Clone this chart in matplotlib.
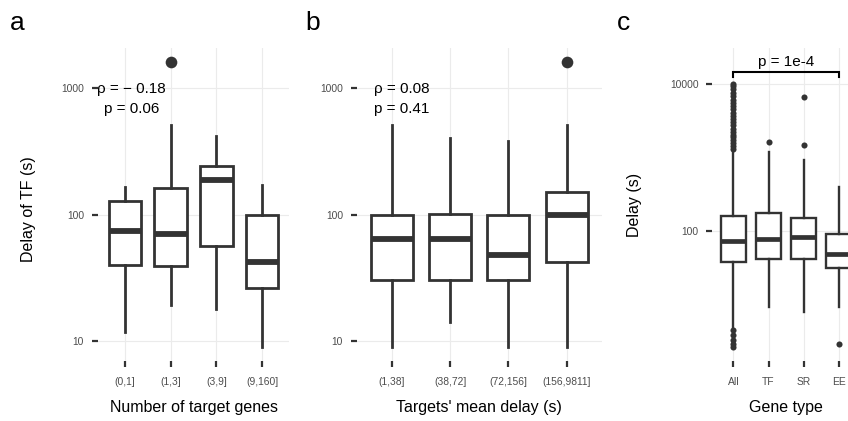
import matplotlib
matplotlib.use('Agg')
import matplotlib.pyplot as plt

plt.rcParams['font.family'] = ['Liberation Sans', 'DejaVu Sans']

W, H = 848, 421
DARK = '#333333'
GRID = '#EBEBEB'
TICKTXT = '#4D4D4D'

# panel a: delay of TF by number of target genes
labels_a = ['(0,1]', '(1,3]', '(3,9]', '(9,160]']
a_whislo = [11.8, 19.3, 17.9, 9.0]
a_q1 = [40, 39, 56, 26.2]
a_med = [74, 70.5, 187, 42]
a_q3 = [128, 162, 243, 100]
a_whishi = [165, 511, 420, 171]
a_fliers = [[], [1600], [], []]

# panel b: delay of TF by targets' mean delay
labels_b = ['(1,38]', '(38,72]', '(72,156]', '(156,9811]']
b_whislo = [9.0, 14.2, 9.0, 9.0]
b_q1 = [30.3, 30.3, 30.3, 41.9]
b_med = [63.7, 63.7, 47.9, 100]
b_q3 = [100, 101, 100, 151]
b_whishi = [511, 405, 381, 511]
b_fliers = [[], [], [], [1600]]

# panel c: delay by gene type
labels_c = ['All', 'TF', 'SR', 'EE']
c_whislo = [4.9, 9.1, 7.9, 9.2]
c_q1 = [37.8, 40.8, 40.8, 30.8]
c_med = [72, 76, 81, 48]
c_q3 = [160, 172, 150, 89]
c_whishi = [1250, 1190, 916, 397]
c_fliers = [[2.6, 2.9, 3.3, 3.8, 4.4,
             1300, 1400, 1550, 1700, 1850, 2000, 2200, 2400, 2700, 3000,
             3300, 3600, 4000, 4500, 5000, 5500, 6000, 6700, 7500, 8300,
             9200, 10000],
            [1626], [1437, 6650], [2.9]]

rho_a, p_a = '\u03c1 = \u2212 0.18', 'p = 0.06'
rho_b, p_b = '\u03c1 = 0.08', 'p = 0.41'
p_c = 'p = 1e-4'


def make_stats(lo, q1, med, q3, hi, fliers):
    return [dict(whislo=w1, q1=b1, med=m, q3=b3, whishi=w2, fliers=f)
            for w1, b1, m, b3, w2, f in zip(lo, q1, med, q3, hi, fliers)]


def px_axes(fig, left, right, top, bottom):
    return fig.add_axes([left / W, (H - bottom) / H, (right - left) / W, (bottom - top) / H])


def draw_panel(ax, stats, labels, yticks, ylim, flier_size, lw, med_lw):
    pos = list(range(1, len(stats) + 1))
    ax.set_yscale('log')
    ax.bxp(stats, positions=pos, widths=0.72, showcaps=False, patch_artist=True,
           boxprops=dict(facecolor='white', edgecolor=DARK, linewidth=lw),
           whiskerprops=dict(color=DARK, linewidth=lw),
           medianprops=dict(color=DARK, linewidth=med_lw, solid_capstyle='butt'),
           flierprops=dict(marker='o', markerfacecolor=DARK, markeredgecolor='none',
                           markersize=flier_size),
           zorder=3)
    ax.set_xlim(0.4, len(stats) + 0.6)
    ax.set_ylim(*ylim)
    ax.set_xticks(pos)
    ax.set_xticklabels(labels)
    ax.set_yticks(yticks)
    ax.set_yticklabels([str(t) for t in yticks])
    ax.minorticks_off()
    for s in ax.spines.values():
        s.set_visible(False)
    for t in yticks:
        ax.axhline(t, color=GRID, lw=0.85, zorder=0)
    for x in pos:
        ax.axvline(x, color=GRID, lw=0.85, zorder=0)
    ax.tick_params(axis='both', length=4.3, width=1.6, color=DARK,
                   labelcolor=TICKTXT, labelsize=7.4)
    ax.tick_params(axis='x', pad=7)
    ax.tick_params(axis='y', pad=5.5)


fig = plt.figure(figsize=(W / 100, H / 100), dpi=100)

ax_a = px_axes(fig, 97.6, 289.4, 47.8, 361)
draw_panel(ax_a, make_stats(a_whislo, a_q1, a_med, a_q3, a_whishi, a_fliers),
           labels_a, [10, 100, 1000], (10 ** 0.842, 10 ** 3.318), 8.4, 2.0, 4.2)
ax_a.text(1.15, 918, rho_a, ha='center', va='baseline', fontsize=11, zorder=5)
ax_a.text(1.15, 638, p_a, ha='center', va='baseline', fontsize=11, zorder=5)

ax_b = px_axes(fig, 356.7, 601.7, 47.8, 361)
draw_panel(ax_b, make_stats(b_whislo, b_q1, b_med, b_q3, b_whishi, b_fliers),
           labels_b, [10, 100, 1000], (10 ** 0.842, 10 ** 3.318), 8.4, 2.0, 4.2)
ax_b.text(1.17, 918, rho_b, ha='center', va='baseline', fontsize=11, zorder=5)
ax_b.text(1.17, 638, p_b, ha='center', va='baseline', fontsize=11, zorder=5)

# panel c runs past the right edge of the figure, as in the original crop
ax_c = px_axes(fig, 712.2, 860, 47.8, 361)
draw_panel(ax_c, make_stats(c_whislo, c_q1, c_med, c_q3, c_whishi, c_fliers),
           labels_c, [100, 10000], (10 ** 0.227, 10 ** 4.486), 4.4, 1.7, 3.4)
ax_c.plot([1, 1, 4, 4], [12450, 14550, 14550, 12450], color='black', lw=1.5,
          solid_joinstyle='miter', zorder=5, clip_on=False)
ax_c.text(2.5, 17400, p_c, ha='center', va='baseline', fontsize=11, zorder=5)

# axis titles
fig.text(193.5 / W, (H - 411.7) / H, 'Number of target genes', ha='center', va='baseline', fontsize=11.5)
fig.text(479.2 / W, (H - 411.7) / H, "Targets' mean delay (s)", ha='center', va='baseline', fontsize=11.5)
fig.text(786 / W, (H - 411.7) / H, 'Gene type', ha='center', va='baseline', fontsize=11.5)
fig.text(29 / W, (H - 209) / H, 'Delay of TF (s)', ha='center', va='center', rotation=90, fontsize=11.5)
fig.text(635 / W, (H - 205) / H, 'Delay (s)', ha='center', va='center', rotation=90, fontsize=11.5)

# panel letters
for x, letter in [(10, 'a'), (305, 'b'), (617, 'c')]:
    fig.text(x / W, (H - 30) / H, letter, ha='left', va='baseline', fontsize=19)

fig.savefig('out.png', dpi=100)
